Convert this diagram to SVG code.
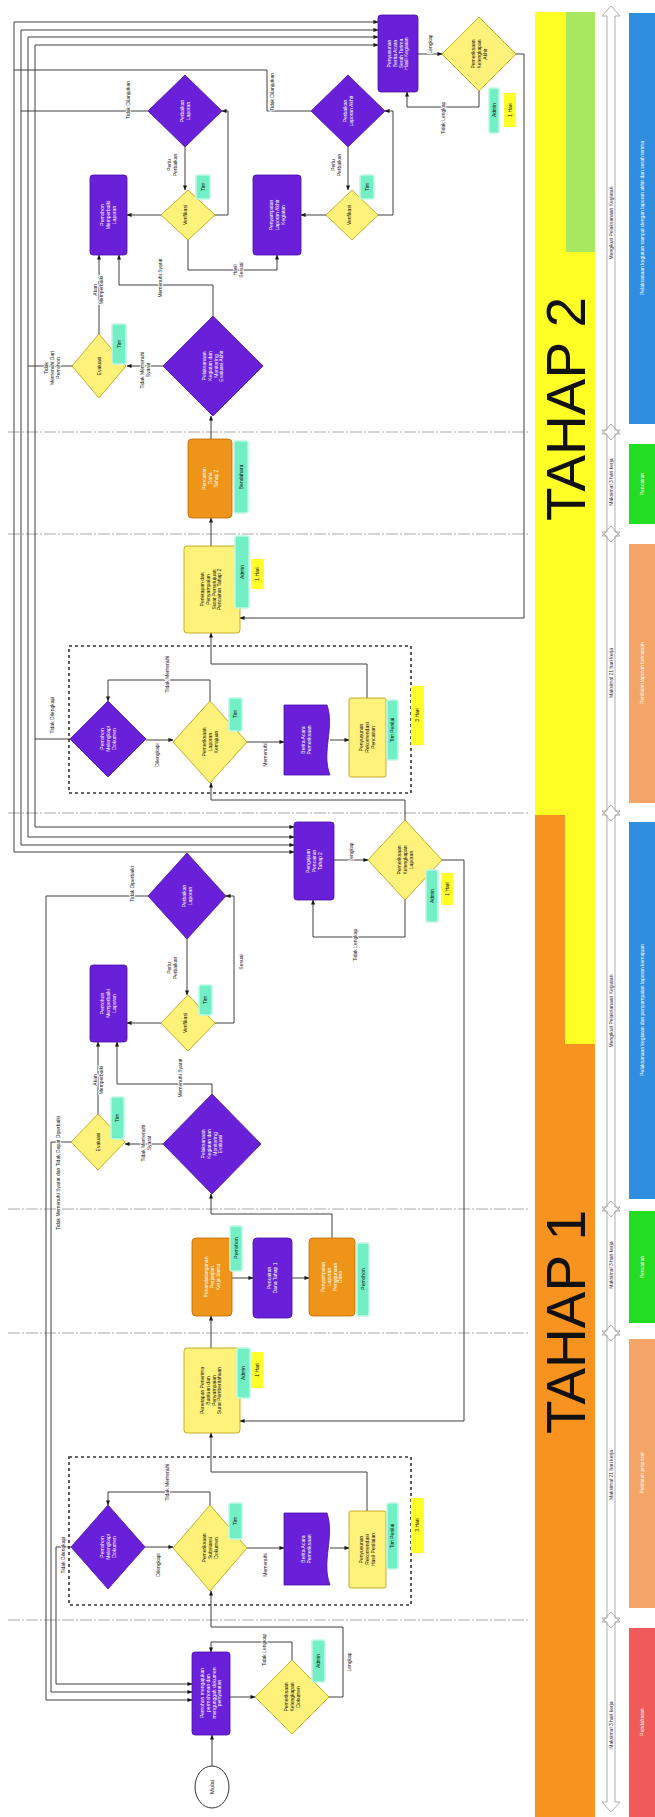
<svg xmlns="http://www.w3.org/2000/svg" width="655" height="1817" viewBox="0 0 655 1817">
<style>
.t{font-family:"Liberation Sans",Arial,sans-serif;font-size:5px;text-anchor:middle}
.w{fill:#fff}
.k{fill:#111}
.lb{font-family:"Liberation Sans",Arial,sans-serif;font-size:5px;text-anchor:middle;fill:#222;paint-order:stroke;stroke:#fff;stroke-width:1.6px}
.pu{fill:#6a1fd8;stroke:#4a0fa8;stroke-width:.8}
.ye{fill:#fff27a;stroke:#b89a00;stroke-width:.8}
.or{fill:#ee9418;stroke:#c06a00;stroke-width:.8}
.tg{fill:#72efc4;stroke:#bdf8e4;stroke-width:1.5}
.yt{fill:#ffff2a}
.ln{fill:none;stroke:#2a2a2a;stroke-width:.9}
.sep{stroke:#a0a0a0;stroke-width:.9;stroke-dasharray:12 2 2 2}
.tl{fill:none;stroke:#9a9a9a;stroke-width:.8}
.bx{fill:none;stroke:#333;stroke-width:1.6;stroke-dasharray:3 3}
.big{font-family:"Liberation Sans",Arial,sans-serif;font-size:55px;text-anchor:middle;fill:#111}
.bar{font-family:"Liberation Sans",Arial,sans-serif;font-size:5px;text-anchor:middle;fill:#fff}
.tlt{font-family:"Liberation Sans",Arial,sans-serif;font-size:5px;text-anchor:middle;fill:#333}
</style>
<defs>
<marker id="a" viewBox="0 0 6 6" refX="5.5" refY="3" markerWidth="5" markerHeight="5" markerUnits="userSpaceOnUse" orient="auto-start-reverse"><path d="M0,0.5 L6,3 L0,5.5 z" fill="#1a1a1a"/></marker>
</defs>
<rect width="655" height="1817" fill="#fff"/>

<g id="stage-bars">
<rect x="535" y="12" width="60" height="1032" fill="#ffff26"/>
<rect x="566" y="12" width="29" height="240" fill="#a8e860"/>
<rect x="535" y="815" width="30" height="229" fill="#f7931e"/>
<rect x="535" y="1044" width="60" height="773" fill="#f7931e"/>
<text class="big" transform="translate(585,409) rotate(-90)">TAHAP 2</text>
<text class="big" transform="translate(585,1322) rotate(-90)">TAHAP 1</text>
</g>

<g id="phase-bars">
<rect x="629" y="13" width="26" height="411" fill="#2f8ee0"/>
<rect x="629" y="444" width="26" height="80" fill="#22dd22"/>
<rect x="629" y="544" width="26" height="259" fill="#f5a467"/>
<rect x="629" y="822" width="26" height="377" fill="#2f8ee0"/>
<rect x="629" y="1211" width="26" height="112" fill="#22dd22"/>
<rect x="629" y="1339" width="26" height="269" fill="#f5a467"/>
<rect x="629" y="1628" width="26" height="189" fill="#f05a5a"/>
<text class="bar" transform="translate(642,218) rotate(-90)" dy="1.75">Pelaksanaan kegiatan sampai dengan laporan akhir dan serah terima</text>
<text class="bar" transform="translate(642,484) rotate(-90)" dy="1.75">Pencairan</text>
<text class="bar" transform="translate(642,673) rotate(-90)" dy="1.75">Penilaian laporan kemajuan</text>
<text class="bar" transform="translate(642,1010) rotate(-90)" dy="1.75">Pelaksanaan kegiatan dan penyampaian laporan kemajuan</text>
<text class="bar" transform="translate(642,1267) rotate(-90)" dy="1.75">Pencairan</text>
<text class="bar" transform="translate(642,1473) rotate(-90)" dy="1.75">Penilaian proposal</text>
<text class="bar" transform="translate(642,1722) rotate(-90)" dy="1.75">Pendaftaran</text>
</g>

<g id="timeline">
<polygon class="tl" points="611,6 620,16 615,16 615,430 620,430 611,440 602,430 607,430 607,16 602,16"/>
<polygon class="tl" points="611,424 620,434 615,434 615,532 620,532 611,542 602,532 607,532 607,434 602,434"/>
<polygon class="tl" points="611,526 620,536 615,536 615,811 620,811 611,821 602,811 607,811 607,536 602,536"/>
<polygon class="tl" points="611,805 620,815 615,815 615,1207 620,1207 611,1217 602,1207 607,1207 607,815 602,815"/>
<polygon class="tl" points="611,1201 620,1211 615,1211 615,1331 620,1331 611,1341 602,1331 607,1331 607,1211 602,1211"/>
<polygon class="tl" points="611,1325 620,1335 615,1335 615,1618 620,1618 611,1628 602,1618 607,1618 607,1335 602,1335"/>
<polygon class="tl" points="611,1612 620,1622 615,1622 615,1802 620,1802 611,1812 602,1802 607,1802 607,1622 602,1622"/>
<text class="tlt" transform="translate(611,223) rotate(-90)" dy="1.75">Mengikuti Pelaksanaan Kegiatan</text>
<text class="tlt" transform="translate(611,482) rotate(-90)" dy="1.75">Maksimal 3 hari kerja</text>
<text class="tlt" transform="translate(611,673) rotate(-90)" dy="1.75">Maksimal 21 hari kerja</text>
<text class="tlt" transform="translate(611,1011) rotate(-90)" dy="1.75">Mengikuti Pelaksanaan Kegiatan</text>
<text class="tlt" transform="translate(611,1265) rotate(-90)" dy="1.75">Maksimal 3 hari kerja</text>
<text class="tlt" transform="translate(611,1475) rotate(-90)" dy="1.75">Maksimal 21 hari kerja</text>
<text class="tlt" transform="translate(611,1725) rotate(-90)" dy="1.75">Maksimal 3 hari kerja</text>
</g>

<g id="separators">
<line class="sep" x1="8" y1="432" x2="528" y2="432"/>
<line class="sep" x1="8" y1="534" x2="528" y2="534"/>
<line class="sep" x1="8" y1="813" x2="528" y2="813"/>
<line class="sep" x1="8" y1="1209" x2="528" y2="1209"/>
<line class="sep" x1="8" y1="1333" x2="528" y2="1333"/>
<line class="sep" x1="8" y1="1620" x2="528" y2="1620"/>
</g>

<g id="groups">
<rect class="bx" x="69" y="1457" width="342" height="148"/>
<rect class="bx" x="69" y="646" width="342" height="147"/>
</g>

<g id="connectors" class="ln" marker-end="url(#a)">
<path d="M212,1766 V1735"/>
<path d="M230,1697 H255"/>
<path d="M292,1660 V1642 H211 V1652"/>
<path d="M329,1697 H343 V1627 H211 V1591"/>
<path d="M145,1547 H173"/>
<path d="M247,1548 H284"/>
<path d="M330,1548 H349"/>
<path d="M210,1505 V1492 H108 V1505"/>
<path d="M367,1511 V1472 H211 V1433"/>
<path d="M442,860 H464 V1421 H240"/>
<path d="M211,1348 V1316"/>
<path d="M232,1278 H253"/>
<path d="M292,1278 H309"/>
<path d="M332,1238 V1214 H211 V1194"/>
<path d="M163,1144 H125"/>
<path d="M98,1114 V1042"/>
<path d="M212,1094 V1084 H117 V1042"/>
<path d="M161,1023 H127"/>
<path d="M187,939 V995"/>
<path d="M215,1023 H234 V896 H226"/>
<path d="M148,896 H46 V1700 H192"/>
<path d="M71,1142 H51 V1692 H192"/>
<path d="M71,1547 H56 V1684 H192"/>
<path d="M334,860 H368"/>
<path d="M405,900 V937 H313 V900"/>
<path d="M405,820 V800 H211 V783"/>
<path d="M146,740 H173"/>
<path d="M247,742 H284"/>
<path d="M330,740 H349"/>
<path d="M210,701 V680 H108 V701"/>
<path d="M367,698 V664 H211 V633"/>
<path d="M516,54 H524 V618 H240"/>
<path d="M211,546 V518"/>
<path d="M211,439 V416"/>
<path d="M163,366 H127"/>
<path d="M99,334 V255"/>
<path d="M213,316 V285 H119 V255"/>
<path d="M161,215 H127"/>
<path d="M185,147 V190"/>
<path d="M215,215 H228 V111 H222"/>
<path d="M188,240 V270 H277 V255"/>
<path d="M326,215 H301"/>
<path d="M348,147 V190"/>
<path d="M378,215 H393 V111 H385"/>
<path d="M418,54 H442"/>
<path d="M479,91 V107 H407 V92"/>
<path d="M378,22 H14 V852 H294" marker-start="url(#a)"/>
<path d="M378,30 H21 V845 H294" marker-start="url(#a)"/>
<path d="M378,37 H28 V837 H294" marker-start="url(#a)"/>
<path d="M378,45 H35 V827 H294" marker-start="url(#a)"/>
<path d="M311,111 H267 V70 H14" marker-end="none"/>
<path d="M148,111 H21" marker-end="none"/>
<path d="M73,366 H28" marker-end="none"/>
<path d="M70,739 H35" marker-end="none"/>
</g>

<g id="connector-labels">
<text class="lb" transform="translate(264,1650) rotate(-90)" dy="1.75">Tidak Lengkap</text>
<text class="lb" transform="translate(349,1662) rotate(-90)" dy="1.75">Lengkap</text>
<text class="lb" transform="translate(158,1565) rotate(-90)" dy="1.75">Dilengkapi</text>
<text class="lb" transform="translate(265,1565) rotate(-90)" dy="1.75">Memenuhi</text>
<text class="lb" transform="translate(167,1482) rotate(-90)" dy="1.75">Tidak Memenuhi</text>
<text class="lb" transform="translate(63,1555) rotate(-90)" dy="1.75">Tidak Dilengkapi</text>
<text class="lb" transform="translate(146,1143) rotate(-90)"><tspan x="0" dy="-1.15">Tidak Memenuhi</tspan><tspan x="0" dy="5.8">Syarat</tspan></text>
<text class="lb" transform="translate(58,1173) rotate(-90)" dy="1.75">Tidak Memenuhi Syarat dan Tidak Dapat Diperbaiki</text>
<text class="lb" transform="translate(98,1080) rotate(-90)"><tspan x="0" dy="-1.15">Akan</tspan><tspan x="0" dy="5.8">Memperbaiki</tspan></text>
<text class="lb" transform="translate(180,1078) rotate(-90)" dy="1.75">Memenuhi Syarat</text>
<text class="lb" transform="translate(172,968) rotate(-90)"><tspan x="0" dy="-1.15">Perlu</tspan><tspan x="0" dy="5.8">Perbaikan</tspan></text>
<text class="lb" transform="translate(241,962) rotate(-90)" dy="1.75">Sesuai</text>
<text class="lb" transform="translate(132,884) rotate(-90)" dy="1.75">Tidak Diperbaiki</text>
<text class="lb" transform="translate(351,852) rotate(-90)" dy="1.75">Lengkap</text>
<text class="lb" transform="translate(355,945) rotate(-90)" dy="1.75">Tidak Lengkap</text>
<text class="lb" transform="translate(157,755) rotate(-90)" dy="1.75">Dilengkapi</text>
<text class="lb" transform="translate(265,755) rotate(-90)" dy="1.75">Memenuhi</text>
<text class="lb" transform="translate(167,674) rotate(-90)" dy="1.75">Tidak Memenuhi</text>
<text class="lb" transform="translate(52,715) rotate(-90)" dy="1.75">Tidak Dilengkapi</text>
<text class="lb" transform="translate(145,370) rotate(-90)"><tspan x="0" dy="-1.15">Tidak Memenuhi</tspan><tspan x="0" dy="5.8">Syarat</tspan></text>
<text class="lb" transform="translate(52,368) rotate(-90)"><tspan x="0" dy="-4.05">Tidak</tspan><tspan x="0" dy="5.8">Memenuhi Dari</tspan><tspan x="0" dy="5.8">Pemohon</tspan></text>
<text class="lb" transform="translate(98,290) rotate(-90)"><tspan x="0" dy="-1.15">Akan</tspan><tspan x="0" dy="5.8">Memperbaiki</tspan></text>
<text class="lb" transform="translate(160,278) rotate(-90)" dy="1.75">Memenuhi Syarat</text>
<text class="lb" transform="translate(172,165) rotate(-90)"><tspan x="0" dy="-1.15">Perlu</tspan><tspan x="0" dy="5.8">Perbaikan</tspan></text>
<text class="lb" transform="translate(238,270) rotate(-90)"><tspan x="0" dy="-1.15">Hasil</tspan><tspan x="0" dy="5.8">Sesuai</tspan></text>
<text class="lb" transform="translate(336,165) rotate(-90)"><tspan x="0" dy="-1.15">Perlu</tspan><tspan x="0" dy="5.8">Perbaikan</tspan></text>
<text class="lb" transform="translate(128,100) rotate(-90)" dy="1.75">Tidak Dilanjutkan</text>
<text class="lb" transform="translate(272,92) rotate(-90)" dy="1.75">Tidak Dilanjutkan</text>
<text class="lb" transform="translate(443,118) rotate(-90)" dy="1.75">Tidak Lengkap</text>
<text class="lb" transform="translate(430,44) rotate(-90)" dy="1.75">Lengkap</text>
</g>

<g id="n-mulai"><ellipse cx="212" cy="1787" rx="17" ry="21" fill="#fff" stroke="#333" stroke-width="1"/><text class="t k" style="font-size:6px" transform="translate(212,1787) rotate(-90)" dy="2">Mulai</text></g>

<g id="n1"><rect class="pu" x="192" y="1652" width="38" height="83" rx="3"/><text class="t w" transform="translate(211,1693) rotate(-90)"><tspan x="0" dy="-6.95">Pemohon mengajukan</tspan><tspan x="0" dy="5.8">permohonan dan</tspan><tspan x="0" dy="5.8">mengunggah dokumen</tspan><tspan x="0" dy="5.8">persyaratan</tspan></text></g>
<g id="n2"><polygon class="ye" points="292,1660 329,1697 292,1734 255,1697"/><rect class="tg" x="312" y="1640" width="13" height="42" rx="2"/><text class="t k" transform="translate(292,1697) rotate(-90)"><tspan x="0" dy="-4.05">Pemeriksaan</tspan><tspan x="0" dy="5.8">Kelengkapan</tspan><tspan x="0" dy="5.8">Dokumen</tspan></text><text class="t k" transform="translate(318.5,1661) rotate(-90)" dy="1.75">Admin</text></g>

<g id="n3"><polygon class="pu" points="108,1505 145,1547 108,1589 71,1547"/><text class="t w" transform="translate(108,1547) rotate(-90)"><tspan x="0" dy="-4.05">Pemohon</tspan><tspan x="0" dy="5.8">Melengkapi</tspan><tspan x="0" dy="5.8">Dokumen</tspan></text></g>
<g id="n4"><polygon class="ye" points="210,1505 247,1548 210,1591 173,1548"/><rect class="tg" x="229" y="1503" width="13" height="36" rx="2"/><text class="t k" transform="translate(210,1548) rotate(-90)"><tspan x="0" dy="-4.05">Pemeriksaan</tspan><tspan x="0" dy="5.8">Substansi</tspan><tspan x="0" dy="5.8">Dokumen</tspan></text><text class="t k" transform="translate(235.5,1521) rotate(-90)" dy="1.75">Tim</text></g>
<g id="n5"><path class="pu" d="M284,1513 H327 C335,1537 321,1561 330,1585 H284 Z"/><text class="t w" transform="translate(306,1549) rotate(-90)"><tspan x="0" dy="-1.15">Berita Acara</tspan><tspan x="0" dy="5.8">Pemeriksaan</tspan></text></g>
<g id="n6"><rect class="ye" x="349" y="1511" width="37" height="77" rx="2"/><rect class="tg" x="387" y="1503" width="11" height="66" rx="2"/><text class="t k" transform="translate(367.5,1549.5) rotate(-90)"><tspan x="0" dy="-4.05">Penyusunan</tspan><tspan x="0" dy="5.8">Rekomendasi</tspan><tspan x="0" dy="5.8">Hasil Penilaian</tspan></text><text class="t k" transform="translate(392.5,1536) rotate(-90)" dy="1.75">Tim Penilai</text></g>
<g id="n6t"><rect class="yt" x="411" y="1498" width="13" height="55"/><text class="t k" transform="translate(417.5,1525) rotate(-90)" dy="1.75">3 Hari</text></g>

<g id="n7"><rect class="ye" x="184" y="1348" width="56" height="85" rx="3"/><rect class="tg" x="237" y="1348" width="13" height="50" rx="2"/><rect class="yt" x="251" y="1352" width="12" height="36"/><text class="t k" transform="translate(211,1390.5) rotate(-90)"><tspan x="0" dy="-6.95">Penetapan Penerima</tspan><tspan x="0" dy="5.8">Bantuan dan</tspan><tspan x="0" dy="5.8">Penyampaian</tspan><tspan x="0" dy="5.8">Surat Pemberitahuan</tspan></text><text class="t k" transform="translate(243.5,1373) rotate(-90)" dy="1.75">Admin</text><text class="t k" transform="translate(257,1370) rotate(-90)" dy="1.75">1 Hari</text></g>

<g id="n8"><rect class="or" x="192" y="1238" width="40" height="78" rx="4"/><rect class="tg" x="230" y="1226" width="12" height="45" rx="2"/><text class="t w" transform="translate(212,1277) rotate(-90)"><tspan x="0" dy="-4.05">Penandatanganan</tspan><tspan x="0" dy="5.8">Perjanjian</tspan><tspan x="0" dy="5.8">Kerja Sama</tspan></text><text class="t k" transform="translate(236,1248) rotate(-90)" dy="1.75">Pemohon</text></g>
<g id="n9"><rect class="pu" x="253" y="1238" width="39" height="80" rx="4"/><text class="t w" transform="translate(272.5,1278) rotate(-90)"><tspan x="0" dy="-1.15">Pencairan</tspan><tspan x="0" dy="5.8">Dana Tahap 1</tspan></text></g>
<g id="n10"><rect class="or" x="309" y="1238" width="46" height="78" rx="4"/><rect class="tg" x="357" y="1243" width="12" height="73" rx="2"/><text class="t w" transform="translate(332,1277) rotate(-90)"><tspan x="0" dy="-6.95">Penyampaian</tspan><tspan x="0" dy="5.8">Laporan</tspan><tspan x="0" dy="5.8">Penggunaan</tspan><tspan x="0" dy="5.8">Dana</tspan></text><text class="t k" transform="translate(363,1279) rotate(-90)" dy="1.75">Pemohon</text></g>

<g id="n11"><polygon class="pu" points="212,1094 261,1144 212,1194 163,1144"/><text class="t w" transform="translate(212,1144) rotate(-90)"><tspan x="0" dy="-6.95">Pelaksanaan</tspan><tspan x="0" dy="5.8">Kegiatan dan</tspan><tspan x="0" dy="5.8">Monitoring</tspan><tspan x="0" dy="5.8">Evaluasi</tspan></text></g>
<g id="n12"><polygon class="ye" points="98,1114 125,1142 98,1170 71,1142"/><rect class="tg" x="111" y="1097" width="13" height="42" rx="2"/><text class="t k" transform="translate(98,1142) rotate(-90)" dy="1.75">Evaluasi</text><text class="t k" transform="translate(117.5,1118) rotate(-90)" dy="1.75">Tim</text></g>
<g id="n13"><rect class="pu" x="90" y="965" width="37" height="77" rx="3"/><text class="t w" transform="translate(108.5,1003.5) rotate(-90)"><tspan x="0" dy="-4.05">Pemohon</tspan><tspan x="0" dy="5.8">Memperbaiki</tspan><tspan x="0" dy="5.8">Laporan</tspan></text></g>
<g id="n14"><polygon class="ye" points="188,995 215,1023 188,1051 161,1023"/><rect class="tg" x="199" y="985" width="13" height="30" rx="2"/><text class="t k" transform="translate(185,1023) rotate(-90)" dy="1.75">Verifikasi</text><text class="t k" transform="translate(205.5,1000) rotate(-90)" dy="1.75">Tim</text></g>
<g id="n15"><polygon class="pu" points="187,853 226,896 187,939 148,896"/><text class="t w" transform="translate(187,896) rotate(-90)"><tspan x="0" dy="-1.15">Perbaikan</tspan><tspan x="0" dy="5.8">Laporan</tspan></text></g>

<g id="n16"><rect class="pu" x="294" y="822" width="40" height="78" rx="3"/><text class="t w" transform="translate(314,861) rotate(-90)"><tspan x="0" dy="-4.05">Pengajuan</tspan><tspan x="0" dy="5.8">Pencairan</tspan><tspan x="0" dy="5.8">Tahap 2</tspan></text></g>
<g id="n17"><polygon class="ye" points="405,820 442,860 405,900 368,860"/><rect class="tg" x="426" y="870" width="12" height="52" rx="2"/><rect class="yt" x="441" y="873" width="12" height="32"/><text class="t k" transform="translate(405,860) rotate(-90)"><tspan x="0" dy="-4.05">Pemeriksaan</tspan><tspan x="0" dy="5.8">Kelengkapan</tspan><tspan x="0" dy="5.8">Laporan</tspan></text><text class="t k" transform="translate(432,896) rotate(-90)" dy="1.75">Admin</text><text class="t k" transform="translate(447,889) rotate(-90)" dy="1.75">1 Hari</text></g>

<g id="n18"><polygon class="pu" points="108,701 146,739 108,777 70,739"/><text class="t w" transform="translate(108,739) rotate(-90)"><tspan x="0" dy="-4.05">Pemohon</tspan><tspan x="0" dy="5.8">Melengkapi</tspan><tspan x="0" dy="5.8">Dokumen</tspan></text></g>
<g id="n19"><polygon class="ye" points="210,701 247,742 210,783 173,742"/><rect class="tg" x="229" y="698" width="13" height="33" rx="2"/><text class="t k" transform="translate(210,742) rotate(-90)"><tspan x="0" dy="-4.05">Pemeriksaan</tspan><tspan x="0" dy="5.8">Laporan</tspan><tspan x="0" dy="5.8">Kemajuan</tspan></text><text class="t k" transform="translate(235.5,714) rotate(-90)" dy="1.75">Tim</text></g>
<g id="n20"><path class="pu" d="M284,705 H327 C335,728 321,752 330,775 H284 Z"/><text class="t w" transform="translate(306,740) rotate(-90)"><tspan x="0" dy="-1.15">Berita Acara</tspan><tspan x="0" dy="5.8">Pemeriksaan</tspan></text></g>
<g id="n21"><rect class="ye" x="349" y="698" width="37" height="79" rx="2"/><rect class="tg" x="387" y="700" width="11" height="60" rx="2"/><text class="t k" transform="translate(367.5,737.5) rotate(-90)"><tspan x="0" dy="-4.05">Penyusunan</tspan><tspan x="0" dy="5.8">Rekomendasi</tspan><tspan x="0" dy="5.8">Pencairan</tspan></text><text class="t k" transform="translate(392.5,730) rotate(-90)" dy="1.75">Tim Penilai</text></g>
<g id="n21t"><rect class="yt" x="411" y="686" width="13" height="59"/><text class="t k" transform="translate(417.5,715) rotate(-90)" dy="1.75">3 Hari</text></g>

<g id="n22"><rect class="ye" x="184" y="546" width="56" height="87" rx="3"/><rect class="tg" x="235" y="536" width="14" height="72" rx="2"/><rect class="yt" x="251" y="559" width="13" height="30"/><text class="t k" transform="translate(211,589.5) rotate(-90)"><tspan x="0" dy="-6.95">Penetapan dan</tspan><tspan x="0" dy="5.8">Penyampaian</tspan><tspan x="0" dy="5.8">Surat Persetujuan</tspan><tspan x="0" dy="5.8">Pencairan Tahap 2</tspan></text><text class="t k" transform="translate(242,572) rotate(-90)" dy="1.75">Admin</text><text class="t k" transform="translate(257.5,574) rotate(-90)" dy="1.75">1 Hari</text></g>
<g id="n23"><rect class="or" x="188" y="439" width="44" height="79" rx="4"/><rect class="tg" x="234" y="441" width="14" height="72" rx="2"/><text class="t w" transform="translate(210,478.5) rotate(-90)"><tspan x="0" dy="-4.05">Pencairan</tspan><tspan x="0" dy="5.8">Dana</tspan><tspan x="0" dy="5.8">Tahap 2</tspan></text><text class="t k" transform="translate(241,477) rotate(-90)" dy="1.75">Bendahara</text></g>

<g id="n24"><polygon class="pu" points="213,316 263,366 213,416 163,366"/><text class="t w" transform="translate(213,366) rotate(-90)"><tspan x="0" dy="-6.95">Pelaksanaan</tspan><tspan x="0" dy="5.8">Kegiatan dan</tspan><tspan x="0" dy="5.8">Monitoring</tspan><tspan x="0" dy="5.8">Evaluasi Akhir</tspan></text></g>
<g id="n25"><polygon class="ye" points="99,334 126,366 99,398 72,366"/><rect class="tg" x="112" y="324" width="14" height="40" rx="2"/><text class="t k" transform="translate(99,366) rotate(-90)" dy="1.75">Evaluasi</text><text class="t k" transform="translate(119,344) rotate(-90)" dy="1.75">Tim</text></g>
<g id="n26"><rect class="pu" x="90" y="175" width="37" height="80" rx="3"/><text class="t w" transform="translate(108.5,215) rotate(-90)"><tspan x="0" dy="-4.05">Pemohon</tspan><tspan x="0" dy="5.8">Memperbaiki</tspan><tspan x="0" dy="5.8">Laporan</tspan></text></g>
<g id="n27"><polygon class="ye" points="188,190 215,215 188,240 161,215"/><rect class="tg" x="196" y="175" width="14" height="24" rx="2"/><text class="t k" transform="translate(185,215) rotate(-90)" dy="1.75">Verifikasi</text><text class="t k" transform="translate(203,187) rotate(-90)" dy="1.75">Tim</text></g>
<g id="n28"><polygon class="pu" points="185,75 222,111 185,147 148,111"/><text class="t w" transform="translate(185,111) rotate(-90)"><tspan x="0" dy="-1.15">Perbaikan</tspan><tspan x="0" dy="5.8">Laporan</tspan></text></g>
<g id="n29"><rect class="pu" x="253" y="175" width="48" height="80" rx="3"/><text class="t w" transform="translate(277,215) rotate(-90)"><tspan x="0" dy="-4.05">Penyampaian</tspan><tspan x="0" dy="5.8">Laporan Akhir</tspan><tspan x="0" dy="5.8">Kegiatan</tspan></text></g>
<g id="n30"><polygon class="ye" points="352,190 378,215 352,240 326,215"/><rect class="tg" x="360" y="175" width="14" height="24" rx="2"/><text class="t k" transform="translate(349,215) rotate(-90)" dy="1.75">Verifikasi</text><text class="t k" transform="translate(367,187) rotate(-90)" dy="1.75">Tim</text></g>
<g id="n31"><polygon class="pu" points="348,75 385,111 348,147 311,111"/><text class="t w" transform="translate(348,111) rotate(-90)"><tspan x="0" dy="-1.15">Perbaikan</tspan><tspan x="0" dy="5.8">Laporan Akhir</tspan></text></g>
<g id="n32"><rect class="pu" x="378" y="15" width="40" height="77" rx="3"/><text class="t w" transform="translate(398,53.5) rotate(-90)"><tspan x="0" dy="-6.95">Penyusunan</tspan><tspan x="0" dy="5.8">Berita Acara</tspan><tspan x="0" dy="5.8">Serah Terima</tspan><tspan x="0" dy="5.8">Hasil Kegiatan</tspan></text></g>
<g id="n33"><polygon class="ye" points="479,17 516,54 479,91 442,54"/><rect class="tg" x="489" y="88" width="10" height="45" rx="2"/><rect class="yt" x="504" y="93" width="12" height="34"/><text class="t k" transform="translate(479,54) rotate(-90)"><tspan x="0" dy="-4.05">Pemeriksaan</tspan><tspan x="0" dy="5.8">Kelengkapan</tspan><tspan x="0" dy="5.8">Akhir</tspan></text><text class="t k" transform="translate(494,110) rotate(-90)" dy="1.75">Admin</text><text class="t k" transform="translate(510,110) rotate(-90)" dy="1.75">1 Hari</text></g>
</svg>
